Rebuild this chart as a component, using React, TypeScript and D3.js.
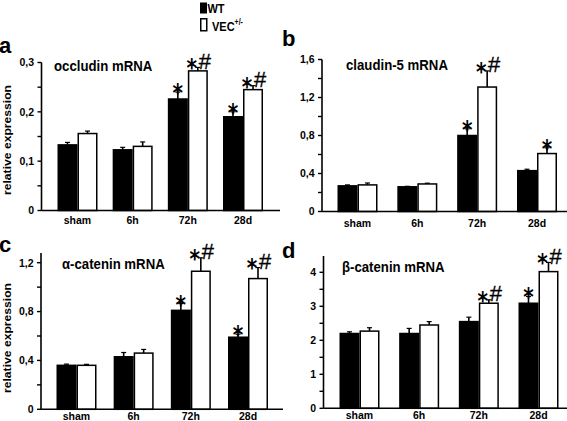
import React from 'react';
import * as d3 from 'd3';

const categories = ['sham', '6h', '72h', '28d'];

const occludinWT = [0.133, 0.123, 0.226, 0.190];
const occludinWTsem = [0.005, 0.005, 0.014, 0.010];
const occludinVEC = [0.156, 0.130, 0.283, 0.245];
const occludinVECsem = [0.005, 0.009, 0.007, 0.008];
const occludinSigWT = ['', '', '*', '*'];
const occludinSigVEC = ['', '', '*#', '*#'];

const claudinWT = [0.27, 0.26, 0.80, 0.43];
const claudinWTsem = [0.01, 0.005, 0.07, 0.015];
const claudinVEC = [0.28, 0.29, 1.31, 0.61];
const claudinVECsem = [0.02, 0.008, 0.17, 0.06];
const claudinSigWT = ['', '', '*', ''];
const claudinSigVEC = ['', '', '*#', '*'];

const alphaWT = [0.36, 0.43, 0.81, 0.59];
const alphaWTsem = [0.01, 0.035, 0.055, 0.025];
const alphaVEC = [0.36, 0.46, 1.13, 1.07];
const alphaVECsem = [0.008, 0.03, 0.11, 0.09];
const alphaSigWT = ['', '', '*', '*'];
const alphaSigVEC = ['', '', '*#', '*#'];

const betaWT = [2.2, 2.2, 2.55, 3.09];
const betaWTsem = [0.05, 0.15, 0.13, 0.2];
const betaVEC = [2.27, 2.45, 3.09, 4.02];
const betaVECsem = [0.1, 0.1, 0.1, 0.27];
const betaSigWT = ['', '', '', '*'];
const betaSigVEC = ['', '', '*#', '*#'];

const occludinTicks = [0, 0.1, 0.2, 0.3];
const claudinTicks = [0, 0.4, 0.8, 1.2, 1.6];
const alphaTicks = [0, 0.4, 0.8, 1.2];
const betaTicks = [0, 1, 2, 3, 4];

const FONT = '"Liberation Sans", Arial, Helvetica, sans-serif';
const STARFONT = '"DejaVu Sans", sans-serif';

type PanelProps = {
  letter: string;
  title: string;
  wt: number[]; wtSem: number[]; vec: number[]; vecSem: number[];
  sigWT: string[]; sigVEC: string[];
  ticks: number[]; minorStep: number; axisTop: number;
  fmt: (v: number) => string;
  ax: number; xEnd: number; y0: number; refVal: number; refPx: number;
  c0: number; c1: number;
  letterX: number; letterY: number;
  titleX: number; titleY: number;
  labelY: number;
  yTitle?: { x: number; y: number };
};

const comma = (digits: number) => (v: number) => (v === 0 ? '0' : d3.format(`.${digits}f`)(v).replace('.', ','));

function Star({ x, cy }: { x: number; cy: number }) {
  return (
    <text transform={`translate(${x},${cy}) scale(1,1.2)`} y={0.6 * 20} textAnchor="middle"
      fontFamily={STARFONT} fontWeight="bold" fontSize={20} fill="#000">*</text>
  );
}
function Hash({ x, base }: { x: number; base: number }) {
  return (
    <text x={x} y={base} textAnchor="middle" fontFamily={FONT} fontSize={22} fill="#000" stroke="#000" strokeWidth={0.3}>#</text>
  );
}

function Panel(p: PanelProps) {
  const y = d3.scaleLinear().domain([0, p.refVal]).range([p.y0, p.refPx]);
  const x = d3.scalePoint<string>().domain(categories).range([p.c0, p.c1]);
  const bw = 20;
  const minor = d3.range(0, p.axisTop + 1e-9, p.minorStep);
  const bars: any[] = [];
  categories.forEach((c, i) => {
    const cx = x(c) as number;
    const groups = [
      { v: p.wt[i], s: p.wtSem[i], left: cx - bw, fill: '#000', sig: p.sigWT[i] },
      { v: p.vec[i], s: p.vecSem[i], left: cx, fill: '#fff', sig: p.sigVEC[i] },
    ];
    groups.forEach((g, j) => {
      const top = y(g.v);
      const et = y(g.v + g.s);
      const bc = g.left + bw / 2;
      bars.push(
        <g key={`${c}-${j}`}>
          <line x1={bc} x2={bc} y1={top} y2={et} stroke="#000" strokeWidth={1.6} />
          <line x1={bc - 2.5} x2={bc + 2.5} y1={et} y2={et} stroke="#000" strokeWidth={1.2} />
          <rect x={g.left + 0.75} y={top} width={bw - 1.5} height={p.y0 - top} fill={g.fill} stroke="#000" strokeWidth={1.5} />
          {g.sig === '*' && <Star x={bc} cy={et - 5.5} />}
          {g.sig === '*#' && (
            <g>
              <Star x={bc - 6} cy={et - 5.5} />
              <Hash x={bc + 7} base={et + 1.5} />
            </g>
          )}
        </g>
      );
    });
  });
  return (
    <g>
      <text x={p.letterX} y={p.letterY} fontFamily={FONT} fontWeight="bold" fontSize={22} fill="#000">{p.letter}</text>
      <text transform={`translate(${p.titleX},${p.titleY}) scale(1,1.15)`} fontFamily={FONT} fontWeight="bold" fontSize={13.2} fill="#000">{p.title}</text>
      {p.yTitle && (
        <text transform={`translate(${p.yTitle.x},${p.yTitle.y}) rotate(-90)`} textAnchor="middle" fontFamily={FONT}
          fontWeight="bold" fontSize={10.5} textLength={110} lengthAdjust="spacingAndGlyphs" fill="#000">relative expression</text>
      )}
      {bars}
      <line x1={p.ax} x2={p.ax} y1={p.y0} y2={y(p.axisTop)} stroke="#000" strokeWidth={1.6} />
      <line x1={p.ax} x2={p.xEnd} y1={p.y0} y2={p.y0} stroke="#000" strokeWidth={1.6} />
      {minor.map((t) => (
        <line key={t} x1={p.ax - 4} x2={p.ax} y1={y(t)} y2={y(t)} stroke="#000" strokeWidth={1.4} />
      ))}
      {p.ticks.map((t) => (
        <text key={t} x={p.ax - 7.5} y={y(t) + 3.8} textAnchor="end" fontFamily={FONT} fontWeight="bold" fontSize={10.5} fill="#000">{p.fmt(t)}</text>
      ))}
      {categories.map((c) => (
        <text key={c} x={x(c) as number} y={p.labelY} textAnchor="middle" fontFamily={FONT} fontWeight="bold" fontSize={10.5} fill="#000">{c}</text>
      ))}
    </g>
  );
}

export default function App() {
  return (
    <svg width={567} height={421} style={{ position: 'absolute', left: 0, top: 0, background: '#fff' }}>
      <rect x={0} y={0} width={567} height={421} fill="#fff" />
      {/* legend */}
      <rect x={200} y={2.5} width={7} height={11} fill="#000" />
      <text transform="translate(207.5,13) scale(1,1.2)" fontFamily={FONT} fontWeight="bold" fontSize={11} fill="#000">WT</text>
      <rect x={200.75} y={18.75} width={6} height={12} fill="#fff" stroke="#000" strokeWidth={1.5} />
      <text transform="translate(212,30.5) scale(1,1.2)" fontFamily={FONT} fontWeight="bold" fontSize={11} fill="#000">
        VEC<tspan fontSize={7} dy={-4.5}>+/-</tspan>
      </text>

      <Panel letter="a" title="occludin mRNA" wt={occludinWT} wtSem={occludinWTsem} vec={occludinVEC} vecSem={occludinVECsem}
        sigWT={occludinSigWT} sigVEC={occludinSigVEC} ticks={occludinTicks} minorStep={0.05} axisTop={0.3} fmt={comma(1)}
        ax={41.5} xEnd={280} y0={210.5} refVal={0.3} refPx={62.5} c0={77.5} c1={243}
        letterX={-1} letterY={52.5} titleX={54} titleY={71} labelY={224} yTitle={{ x: 11, y: 140 }} />
      <Panel letter="b" title="claudin-5 mRNA" wt={claudinWT} wtSem={claudinWTsem} vec={claudinVEC} vecSem={claudinVECsem}
        sigWT={claudinSigWT} sigVEC={claudinSigVEC} ticks={claudinTicks} minorStep={0.2} axisTop={1.6} fmt={comma(1)}
        ax={322} xEnd={567} y0={211.5} refVal={1.6} refPx={59.5} c0={357.5} c1={537}
        letterX={282} letterY={46} titleX={346} titleY={69.5} labelY={226.5} />
      <Panel letter="c" title="α-catenin mRNA" wt={alphaWT} wtSem={alphaWTsem} vec={alphaVEC} vecSem={alphaVECsem}
        sigWT={alphaSigWT} sigVEC={alphaSigVEC} ticks={alphaTicks} minorStep={0.2} axisTop={1.28} fmt={comma(1)}
        ax={41} xEnd={283} y0={409.3} refVal={1.2} refPx={262.7} c0={76.5} c1={248}
        letterX={-1} letterY={251.5} titleX={62} titleY={269} labelY={419.5} yTitle={{ x: 11, y: 338 }} />
      <Panel letter="d" title="β-catenin mRNA" wt={betaWT} wtSem={betaWTsem} vec={betaVEC} vecSem={betaVECsem}
        sigWT={betaSigWT} sigVEC={betaSigVEC} ticks={betaTicks} minorStep={0.5} axisTop={4.48} fmt={comma(0)}
        ax={323.5} xEnd={567} y0={408.3} refVal={4} refPx={272.3} c0={359.5} c1={538.5}
        letterX={282} letterY={257.5} titleX={342} titleY={271.5} labelY={419.3} />
    </svg>
  );
}
